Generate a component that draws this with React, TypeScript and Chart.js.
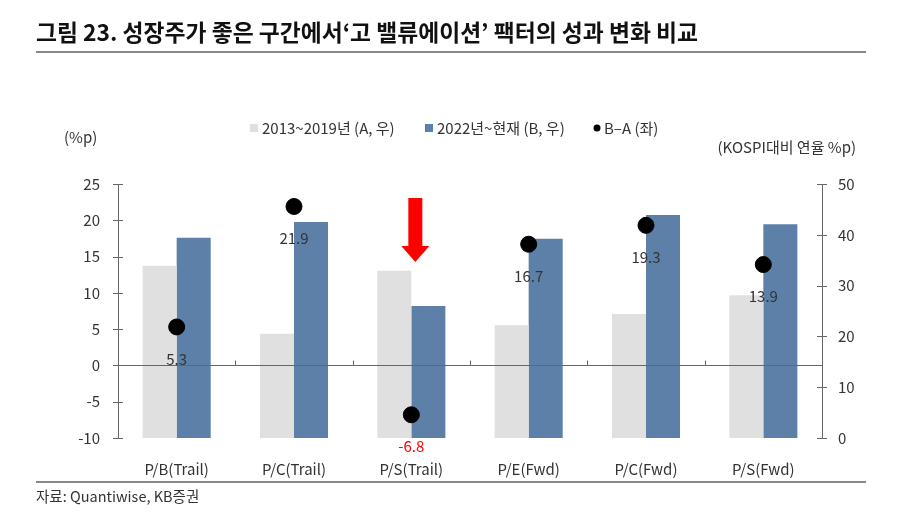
import React, { useEffect, useRef } from "react";
import { Chart, registerables } from "chart.js";

Chart.register(...registerables);

const categories = ["P/B(Trail)", "P/C(Trail)", "P/S(Trail)", "P/E(Fwd)", "P/C(Fwd)", "P/S(Fwd)"];
const periodA = [33.9, 20.5, 32.9, 22.2, 24.4, 28.1];
const periodB = [39.4, 42.5, 26.0, 39.2, 43.9, 42.1];
const diffBA = [5.3, 21.9, -6.8, 16.7, 19.3, 13.9];
const leftTicks = { min: -10, max: 25, step: 5 };
const rightTicks = { min: 0, max: 50, step: 10 };
const legendLabels = ["2013~2019년 (A, 우)", "2022년~현재 (B, 우)", "B–A (좌)"];
const titleText = "그림 23. 성장주가 좋은 구간에서‘고 밸류에이션’ 팩터의 성과 변화 비교";
const sourceText = "자료: Quantiwise, KB증권";
const leftUnit = "(%p)";
const rightUnit = "(KOSPI대비 연율 %p)";
const arrowIndex = 2;

const FONT = '"Noto Sans CJK KR", "Noto Sans", sans-serif';
const GRAY = "#e0e0e0";
const BLUE = "#5d80a8";
const TEXT = "#333333";
const AXIS = "#666666";

const W = 900;
const H = 524;
const AREA = { left: 118, right: 822, top: 184, bottom: 438 };

const decorPlugin = {
  id: "decor",
  afterDatasetsDraw(chart: any) {
    const ctx = chart.ctx;
    const yL = chart.scales.yL;
    const yR = chart.scales.yR;
    const x = chart.scales.x;
    const { left, right, top, bottom } = chart.chartArea;
    ctx.save();
    ctx.strokeStyle = AXIS;
    ctx.lineWidth = 1;
    ctx.beginPath();
    ctx.moveTo(left + 0.5, top);
    ctx.lineTo(left + 0.5, bottom);
    ctx.moveTo(right + 0.5, top);
    ctx.lineTo(right + 0.5, bottom);
    yL.ticks.forEach((t: any) => {
      const py = Math.round(yL.getPixelForValue(t.value)) + 0.5;
      ctx.moveTo(left - 5, py);
      ctx.lineTo(left + 5, py);
    });
    yR.ticks.forEach((t: any) => {
      const py = Math.round(yR.getPixelForValue(t.value)) + 0.5;
      ctx.moveTo(right - 5, py);
      ctx.lineTo(right + 5, py);
    });
    const zy = Math.round(yL.getPixelForValue(0)) + 0.5;
    ctx.moveTo(left, zy);
    ctx.lineTo(right, zy);
    const catW = (right - left) / categories.length;
    for (let k = 1; k < categories.length; k++) {
      const px = Math.round(left + catW * k) + 0.5;
      ctx.moveTo(px, zy);
      ctx.lineTo(px, zy - 5);
    }
    ctx.stroke();

    const meta = chart.getDatasetMeta(2);
    ctx.font = "15px " + FONT;
    ctx.textAlign = "center";
    ctx.textBaseline = "middle";
    meta.data.forEach((pt: any, i: number) => {
      const v = diffBA[i];
      ctx.fillStyle = v < 0 ? "#ff0000" : TEXT;
      ctx.fillText(v.toFixed(1), pt.x, pt.y + 32);
    });

    const ax = x.getPixelForValue(arrowIndex) + 4;
    ctx.fillStyle = "#ff0000";
    ctx.beginPath();
    ctx.moveTo(ax - 7, 198);
    ctx.lineTo(ax + 7, 198);
    ctx.lineTo(ax + 7, 246);
    ctx.lineTo(ax + 14, 246);
    ctx.lineTo(ax, 262);
    ctx.lineTo(ax - 14, 246);
    ctx.lineTo(ax - 7, 246);
    ctx.closePath();
    ctx.fill();
    ctx.restore();
  },
  afterDraw(chart: any) {
    const ctx = chart.ctx;
    ctx.save();
    ctx.fillStyle = "#111111";
    ctx.font = "bold 22.8px " + FONT;
    ctx.textAlign = "left";
    ctx.textBaseline = "middle";
    ctx.fillText(titleText, 36, 32);
    ctx.strokeStyle = "#888888";
    ctx.lineWidth = 2;
    ctx.beginPath();
    ctx.moveTo(36, 52);
    ctx.lineTo(866, 52);
    ctx.stroke();

    ctx.beginPath();
    ctx.moveTo(36, 482);
    ctx.lineTo(866, 482);
    ctx.stroke();
    ctx.fillStyle = TEXT;
    ctx.font = "14.5px " + FONT;
    ctx.fillText(sourceText, 36, 496);

    ctx.font = "15px " + FONT;
    ctx.fillText(leftUnit, 64, 137);
    ctx.textAlign = "right";
    ctx.fillText(rightUnit, 856, 147);

    ctx.textAlign = "left";
    const ly = 128;
    ctx.fillStyle = GRAY;
    ctx.fillRect(250, ly - 4, 8, 8);
    ctx.fillStyle = TEXT;
    ctx.fillText(legendLabels[0], 262, ly);
    ctx.fillStyle = BLUE;
    ctx.fillRect(425, ly - 4, 8, 8);
    ctx.fillStyle = TEXT;
    ctx.fillText(legendLabels[1], 437, ly);
    ctx.fillStyle = "#000000";
    ctx.beginPath();
    ctx.arc(597, ly, 3.5, 0, Math.PI * 2);
    ctx.fill();
    ctx.fillStyle = TEXT;
    ctx.fillText(legendLabels[2], 604, ly);
    ctx.restore();
  },
};

export default function App() {
  const ref = useRef<HTMLCanvasElement | null>(null);
  useEffect(() => {
    if (!ref.current) return;
    const chart = new Chart(ref.current, {
      data: {
        labels: categories,
        datasets: [
          {
            type: "bar",
            label: legendLabels[0],
            data: periodA,
            yAxisID: "yR",
            backgroundColor: GRAY,
            order: 1,
            categoryPercentage: 0.58,
            barPercentage: 1,
          },
          {
            type: "bar",
            label: legendLabels[1],
            data: periodB,
            yAxisID: "yR",
            backgroundColor: BLUE,
            order: 1,
            categoryPercentage: 0.58,
            barPercentage: 1,
          },
          {
            type: "line",
            label: legendLabels[2],
            data: diffBA,
            yAxisID: "yL",
            showLine: false,
            pointRadius: 8,
            pointBackgroundColor: "#000000",
            pointBorderColor: "#000000",
            borderColor: "#000000",
            backgroundColor: "#000000",
            order: 0,
          },
        ] as any,
      },
      options: {
        animation: false,
        responsive: false,
        layout: { padding: { left: 0, right: 0, top: AREA.top, bottom: 0 } },
        plugins: { legend: { display: false }, title: { display: false }, tooltip: { enabled: false } },
        scales: {
          x: {
            grid: { display: false },
            border: { display: false },
            ticks: { color: TEXT, font: { family: FONT, size: 15 }, padding: 14, maxRotation: 0 },
            afterFit: (s: any) => {
              s.height = H - AREA.bottom;
            },
          },
          yL: {
            position: "left",
            min: leftTicks.min,
            max: leftTicks.max,
            grid: { display: false, drawTicks: false },
            border: { display: false },
            ticks: { stepSize: leftTicks.step, color: TEXT, font: { family: FONT, size: 15 }, padding: 18 },
            afterFit: (s: any) => {
              s.width = AREA.left;
            },
          },
          yR: {
            position: "right",
            min: rightTicks.min,
            max: rightTicks.max,
            grid: { display: false, drawTicks: false },
            border: { display: false },
            ticks: { stepSize: rightTicks.step, color: TEXT, font: { family: FONT, size: 15 }, padding: 16 },
            afterFit: (s: any) => {
              s.width = W - AREA.right;
            },
          },
        },
      } as any,
      plugins: [decorPlugin],
    });
    return () => chart.destroy();
  }, []);
  return (
    <div style={{ position: "absolute", left: 0, top: 0, width: W, height: H, background: "#ffffff" }}>
      <canvas ref={ref} width={W} height={H} style={{ width: W, height: H }} />
    </div>
  );
}
